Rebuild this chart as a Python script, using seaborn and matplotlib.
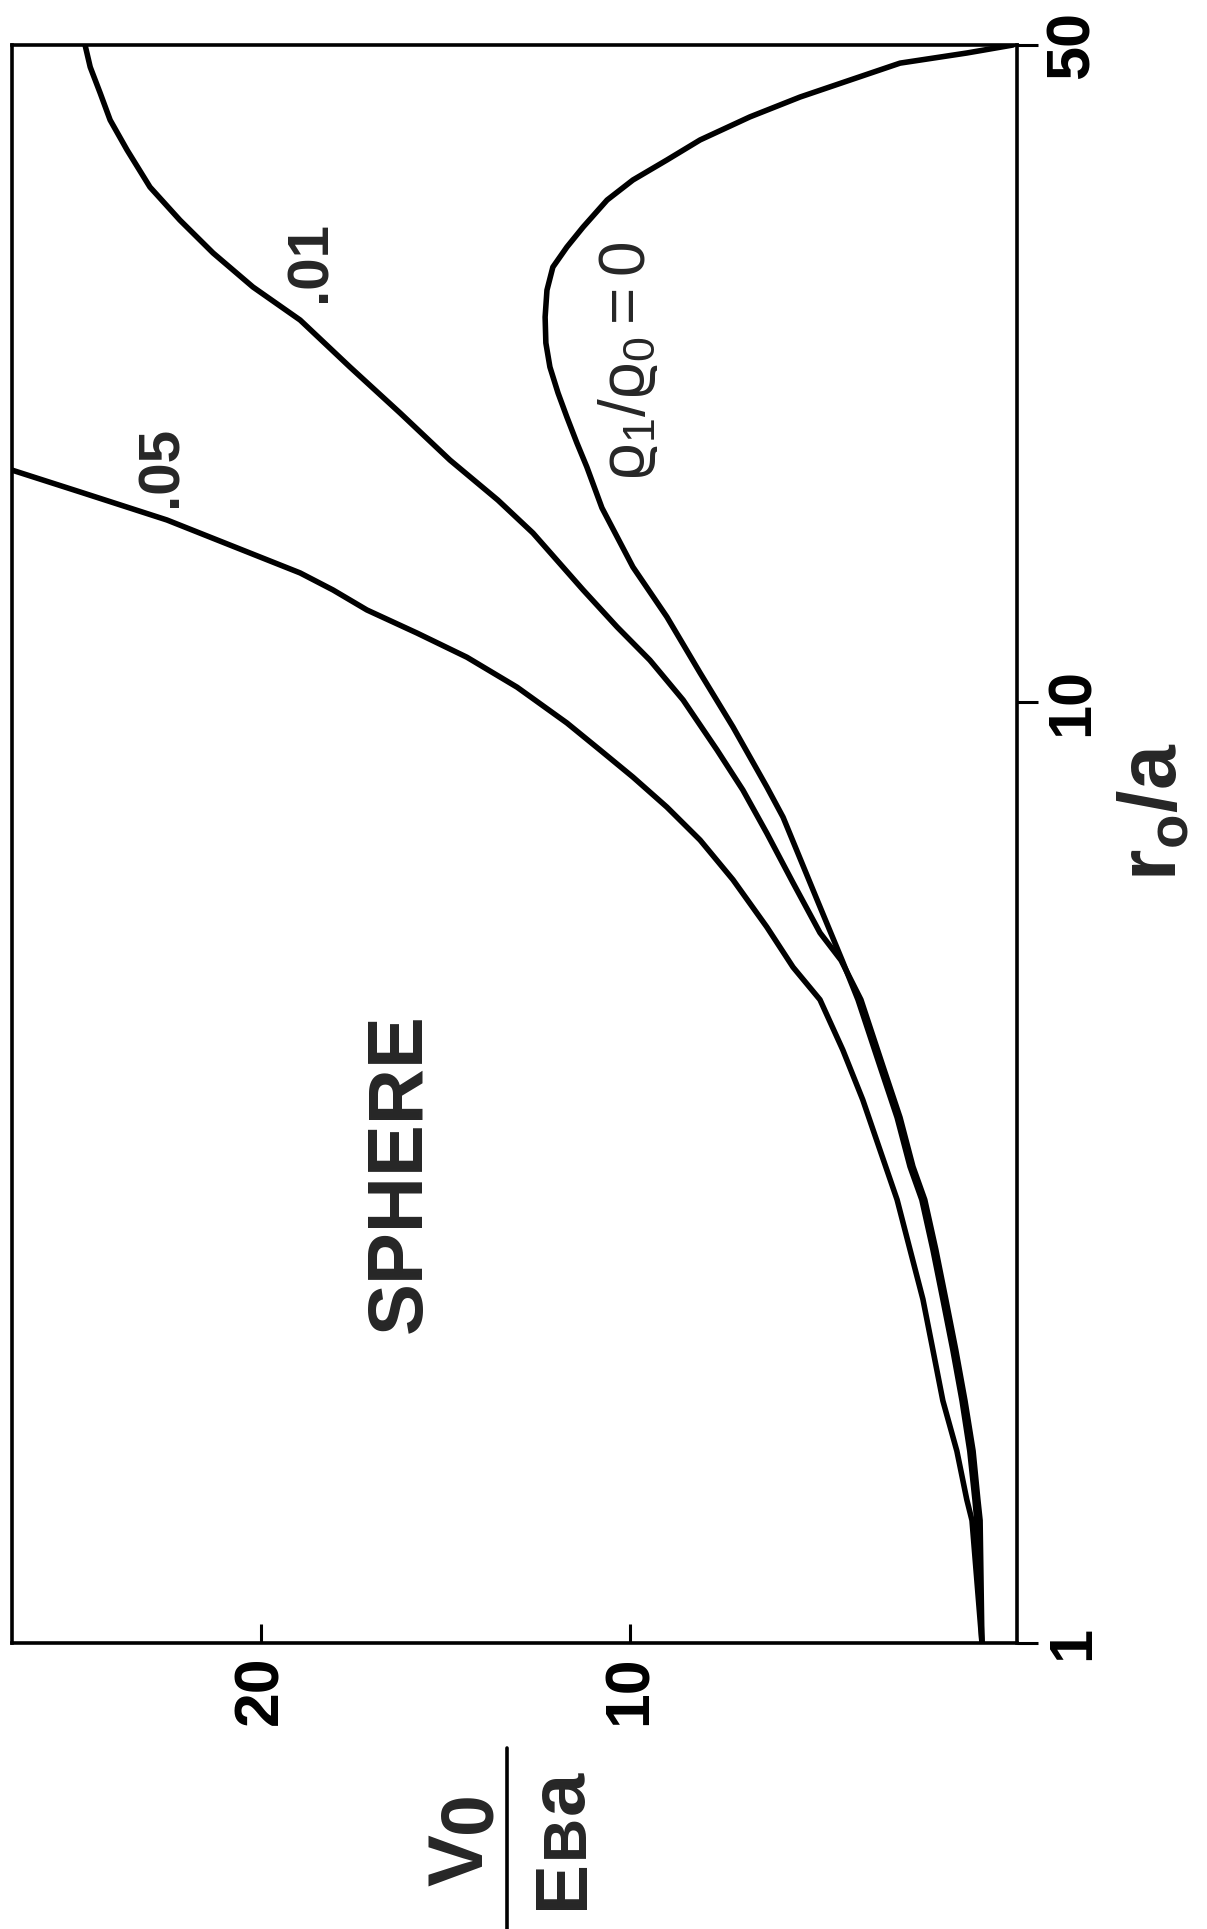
import matplotlib
matplotlib.use("Agg")
import matplotlib.pyplot as plt
from matplotlib.lines import Line2D
from matplotlib.ticker import NullLocator
import seaborn as sns

# ---- data ----
# r0/a values and V0/(E_B a) values for each curve
r_rho0 = [1.00, 1.35, 1.42, 1.60, 1.81, 2.05, 2.32, 2.62, 2.96, 3.21, 3.62, 4.10,
          4.83, 5.32, 6.17, 7.55, 8.13, 9.42, 10.75, 12.33, 13.93, 16.10, 17.80,
          18.88, 20.11, 21.33, 22.73, 24.11, 25.69, 27.44, 29.03, 30.49, 32.02,
          34.21, 35.93, 37.73, 39.63, 41.93, 44.02, 45.88, 47.83, 49.03, 50.0]
v_rho0 = [0.46, 0.60, 0.65, 0.79, 1.00, 1.25, 1.52, 1.79, 2.09, 2.41, 2.76, 3.22,
          3.82, 4.25, 4.93, 5.85, 6.29, 7.21, 8.10, 9.00, 9.92, 10.76, 11.17,
          11.44, 11.71, 11.95, 12.17, 12.28, 12.30, 12.25, 12.09, 11.71, 11.27,
          10.62, 9.92, 9.00, 8.10, 6.75, 5.39, 4.04, 2.68, 0.87, -0.38]

r_rho01 = [1.00, 1.35, 1.42, 1.60, 1.81, 2.05, 2.32, 2.62, 2.96, 3.21, 3.62, 4.10,
           4.83, 5.32, 5.69, 6.43, 7.26, 8.07, 8.90, 10.06, 11.09, 12.03, 13.17,
           15.14, 16.41, 18.10, 20.31, 22.73, 25.50, 27.65, 30.05, 32.57, 35.31,
           38.66, 41.61, 44.45, 47.37, 50.0]
v_rho01 = [0.46, 0.51, 0.57, 0.70, 0.92, 1.17, 1.44, 1.71, 2.01, 2.33, 2.68, 3.14,
           3.74, 4.28, 4.85, 5.58, 6.29, 6.94, 7.64, 8.56, 9.46, 10.35, 11.27,
           12.63, 13.58, 14.88, 16.23, 17.59, 18.94, 20.22, 21.30, 22.20, 23.01,
           23.63, 24.09, 24.36, 24.63, 24.77]

r_rho05 = [1.00, 1.35, 1.42, 1.60, 1.81, 2.05, 2.32, 2.62, 2.96, 3.34, 3.78, 4.27,
           4.83, 5.23, 5.77, 6.48, 7.14, 7.74, 8.33, 8.90, 9.51, 10.38, 11.17,
           11.85, 12.54, 13.17, 13.73, 15.63, 16.70, 17.66]
v_rho05 = [0.46, 0.73, 0.87, 1.14, 1.52, 1.79, 2.06, 2.41, 2.76, 3.22, 3.69, 4.23,
           4.85, 5.58, 6.29, 7.21, 8.10, 9.00, 9.92, 10.81, 11.71, 13.06, 14.42,
           15.77, 17.13, 18.05, 18.94, 22.55, 24.82, 26.75]

v_ticks = [10, 20]
v_tick_labels = ["10", "20"]
r_ticks = [1, 10, 50]
r_tick_labels = ["1", "10", "50"]

# ---- style ----
sns.set_theme(style="white")
plt.rcParams["font.family"] = ["Liberation Sans", "DejaVu Sans"]
plt.rcParams["mathtext.fontset"] = "custom"
plt.rcParams["mathtext.rm"] = "Liberation Sans"
plt.rcParams["mathtext.it"] = "Liberation Sans:italic"
plt.rcParams["mathtext.bf"] = "Liberation Sans:bold"
plt.rcParams["mathtext.default"] = "regular"

W, H = 1207, 1929
fig = plt.figure(figsize=(W / 100, H / 100), dpi=100)
fig.patch.set_facecolor("white")
ax = fig.add_axes([12 / W, 1 - 1643 / H, (1017 - 12) / W, (1643 - 45) / H])

for v, r in [(v_rho0, r_rho0), (v_rho01, r_rho01), (v_rho05, r_rho05)]:
    sns.lineplot(x=v, y=r, ax=ax, sort=False, estimator=None, color="black",
                 linewidth=4.0, legend=False, solid_joinstyle="round",
                 solid_capstyle="round")

ax.set_yscale("log")
ax.set_ylim(1, 50)
ax.set_xlim(26.75, -0.49)
ax.set_xlabel("")
ax.set_ylabel("")

for s in ax.spines.values():
    s.set_visible(True)
    s.set_color("black")
    s.set_linewidth(2.6)

ax.set_xticks(v_ticks)
ax.set_xticklabels(v_tick_labels, fontweight="bold")
ax.tick_params(axis="x", which="major", direction="in", length=14, width=2.2,
               labelsize=45, labelrotation=90, pad=9, bottom=True, top=False,
               colors="black")

ax.yaxis.tick_right()
ax.set_yticks(r_ticks)
ax.set_yticklabels(r_tick_labels, fontweight="bold")
ax.yaxis.set_minor_locator(NullLocator())
ax.tick_params(axis="y", which="major", direction="out", length=15, width=2.2,
               labelsize=44, labelrotation=90, pad=5, right=True, left=False,
               colors="black")
for lab in ax.get_yticklabels():
    lab.set_va("center")

# curve labels
ax.text(22.7, 17.8, ".05", rotation=90, ha="center", va="center", fontsize=42,
        fontweight="bold")
ax.text(18.67, 29.4, ".01", rotation=90, ha="center", va="center", fontsize=42,
        fontweight="bold")
ax.text(10.05, 23.1, r"$\varrho_1/\varrho_0=0$", rotation=90, ha="center",
        va="center", fontsize=46)
ax.text(16.23, 3.16, "SPHERE", rotation=90, ha="center", va="center",
        fontsize=56, fontweight="bold")

# axis titles
fig.text(1155 / W, 1 - 812 / H, r"r$_o$/a", rotation=90, ha="center",
         va="center", fontsize=58, fontweight="bold")


def rot_label(x, y, s, size):
    fig.text(x / W, 1 - y / H, s, rotation=90, rotation_mode="anchor",
             ha="center", va="baseline", fontsize=size, fontweight="bold")


# V0 / (E_B a) as a stacked fraction
rot_label(482, 1860, "V", 56)
rot_label(490, 1812, "0", 54)
rot_label(583, 1884, "E", 54)
rot_label(583, 1836, "B", 44)
rot_label(583, 1792, "a", 56)
fig.add_artist(Line2D([507 / W, 507 / W], [1 - 1748 / H, 0.0], lw=2.6,
                      color="black", transform=fig.transFigure))

fig.savefig("out.png", dpi=100, facecolor="white")
